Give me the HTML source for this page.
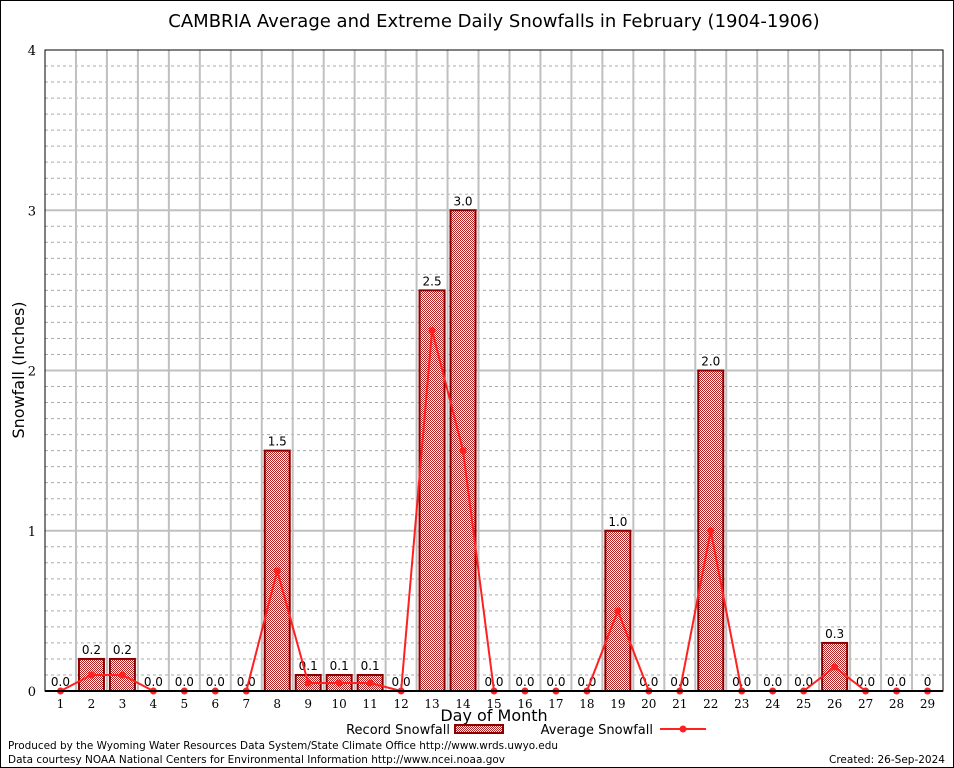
<!DOCTYPE html>
<html><head><meta charset="utf-8"><style>
html,body{margin:0;padding:0;background:#fff}
svg{display:block}
</style></head><body>
<svg id="chart" width="954" height="768" xmlns="http://www.w3.org/2000/svg" font-family="'DejaVu Sans','Liberation Sans',sans-serif">
<defs>
<pattern id="chk" width="2" height="2" patternUnits="userSpaceOnUse">
<rect width="2" height="2" fill="#fff"/><rect width="1" height="1" fill="#b22222"/><rect x="1" y="1" width="1" height="1" fill="#b22222"/>
</pattern>
</defs>
<rect x="0.5" y="0.5" width="953" height="767" fill="#fff" stroke="#000"/>
<text x="494" y="27" text-anchor="middle" font-size="18">CAMBRIA Average and Extreme Daily Snowfalls in February (1904-1906)</text>
<g id="grid"></g>
<g id="bars"></g>
<g id="line"></g>
<g id="axes"></g>
<text transform="translate(24,370) rotate(-90)" text-anchor="middle" font-size="16">Snowfall (Inches)</text>
<text x="494" y="721" text-anchor="middle" font-size="16">Day of Month</text>
<g>
<text x="450" y="734" text-anchor="end" font-size="13">Record Snowfall</text>
<rect x="455" y="725" width="48" height="8" fill="url(#chk)" stroke="#8b0000" stroke-width="2"/>
<text x="653" y="734" text-anchor="end" font-size="13">Average Snowfall</text>
<line x1="660" y1="729" x2="706" y2="729" stroke="#ff2020" stroke-width="2"/>
<circle cx="683" cy="729" r="3.5" fill="#ff2020"/>
</g>
<text x="8" y="749" font-size="11" textLength="550" lengthAdjust="spacingAndGlyphs">Produced by the Wyoming Water Resources Data System/State Climate Office http://www.wrds.uwyo.edu</text>
<text x="8" y="763" font-size="11" textLength="497" lengthAdjust="spacingAndGlyphs">Data courtesy NOAA National Centers for Environmental Information http://www.ncei.noaa.gov</text>
<text x="829" y="763" font-size="11" textLength="116" lengthAdjust="spacingAndGlyphs">Created: 26-Sep-2024</text>
</svg>
<script>
const days=[1,2,3,4,5,6,7,8,9,10,11,12,13,14,15,16,17,18,19,20,21,22,23,24,25,26,27,28,29];
const recordVals=[0,0.2,0.2,0,0,0,0,1.5,0.1,0.1,0.1,0,2.5,3.0,0,0,0,0,1.0,0,0,2.0,0,0,0,0.3,0,0,0];
const recordLabels=["0.0","0.2","0.2","0.0","0.0","0.0","0.0","1.5","0.1","0.1","0.1","0.0","2.5","3.0","0.0","0.0","0.0","0.0","1.0","0.0","0.0","2.0","0.0","0.0","0.0","0.3","0.0","0.0","0"];
const avgVals=[0,0.1,0.1,0,0,0,0,0.75,0.05,0.05,0.05,0,2.25,1.5,0,0,0,0,0.5,0,0,1.0,0,0,0,0.15,0,0,0];
const yTicks=[0,1,2,3,4];
const NS="http://www.w3.org/2000/svg";
const L=45,R=943,T=50,B=691,yMax=4;
const x=d=>L+(d-0.5)*(R-L)/days.length;
const y=v=>B-v*(B-T)/yMax;
function mk(tag,attrs,parent){const e=document.createElementNS(NS,tag);for(const k in attrs)e.setAttribute(k,attrs[k]);parent.appendChild(e);return e;}
const grid=document.getElementById('grid'),bars=document.getElementById('bars'),line=document.getElementById('line'),axes=document.getElementById('axes');
for(let i=1;i<yMax*10;i++){if(i%10===0)continue;const g=mk('line',{x1:L,x2:R,y1:y(i/10),y2:y(i/10),stroke:'#aaa','stroke-width':1,'stroke-dasharray':'3,3'},grid);

}
for(let i=1;i<days.length;i++){const g=mk('line',{x1:x(i+0.5),x2:x(i+0.5),y1:T,y2:B,stroke:'#c0c0c0','stroke-width':2},grid);

}
yTicks.forEach(t=>{if(t>0&&t<yMax){const g=mk('line',{x1:L,x2:R,y1:y(t),y2:y(t),stroke:'#c0c0c0','stroke-width':2},grid);

}
const tl=mk('text',{x:36,y:y(t)+5,'text-anchor':'end','font-size':13,'font-family':"'DejaVu Serif','Liberation Serif',serif"},axes);tl.textContent=t;

});
const bw=25;
days.forEach((d,i)=>{const v=recordVals[i];
if(v>0){const r=mk('rect',{x:x(d)-bw/2,y:y(v),width:bw,height:B-y(v),fill:'url(#chk)',stroke:'#8b0000','stroke-width':2},bars);

}
const lb=mk('text',{x:x(d),y:y(v)-5,'text-anchor':'middle','font-size':12},bars);lb.textContent=recordLabels[i];


const xl=mk('text',{x:x(d),y:708,'text-anchor':'middle','font-size':12,'font-family':"'DejaVu Serif','Liberation Serif',serif"},axes);xl.textContent=d;

});
const pl=mk('polyline',{points:days.map((d,i)=>x(d)+','+y(avgVals[i])).join(' '),fill:'none',stroke:'#ff2020','stroke-width':2},line);


days.forEach((d,i)=>{const c=mk('circle',{cx:x(d),cy:y(avgVals[i]),r:3.5,fill:'#ff2020'},line);

});
const fr=mk('rect',{x:L,y:T,width:R-L,height:B-T,fill:'none',stroke:'#000','stroke-width':1},axes);


const xa=mk('line',{x1:L,x2:R,y1:B,y2:B,stroke:'#000','stroke-width':2},axes);


</script>
</body></html>
